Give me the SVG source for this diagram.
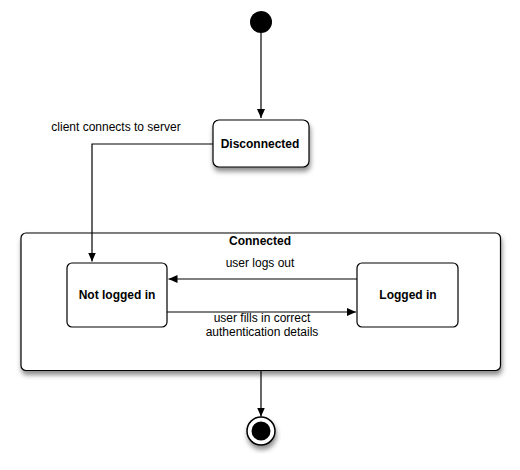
<svg xmlns="http://www.w3.org/2000/svg" width="520" height="470" viewBox="0 0 520 470">
<style>
.box{fill:#fff;stroke:#000;stroke-width:1.2}
.t{font-family:"Liberation Sans",Arial,sans-serif;font-size:12px;fill:#000;text-anchor:middle}
.b{font-weight:bold}
.c{fill:none;stroke:#000;stroke-width:1.2}
</style>
<defs>
<filter id="sh" x="-20%" y="-20%" width="140%" height="150%">
<feDropShadow dx="1" dy="4" stdDeviation="2.5" flood-color="#000" flood-opacity="0.45"/>
</filter>
<marker id="ar" markerWidth="10" markerHeight="10" refX="9" refY="5" orient="auto" markerUnits="userSpaceOnUse">
<path d="M0,1 L9,5 L0,9 Z" fill="#000"/>
</marker>
</defs>
<rect width="520" height="470" fill="#fff"/>
<g id="start"><circle cx="261" cy="22" r="11" fill="#000"/></g>
<g id="connected">
<rect class="box" x="21" y="233" width="479.5" height="137.5" rx="5" filter="url(#sh)"/>
<text class="t b" x="260" y="245">Connected</text>
</g>
<g id="disconnected">
<rect class="box" x="213" y="120" width="96" height="47" rx="6" filter="url(#sh)"/>
<text class="t b" x="260" y="148">Disconnected</text>
</g>
<g id="notloggedin">
<rect class="box" x="67" y="263" width="100" height="64" rx="5"/>
<text class="t b" x="117" y="299">Not logged in</text>
</g>
<g id="loggedin">
<rect class="box" x="357" y="263" width="101" height="64" rx="5"/>
<text class="t b" x="408" y="299">Logged in</text>
</g>
<g id="end">
<circle cx="261" cy="431" r="14" fill="#fff" stroke="#000" stroke-width="1.5" filter="url(#sh)"/>
<circle cx="261" cy="431" r="9.5" fill="#000"/>
</g>
<g id="connectors">
<path class="c" d="M261,33 V118" marker-end="url(#ar)"/>
<path class="c" d="M213,144 H92 V261.5" marker-end="url(#ar)"/>
<path class="c" d="M357,279 H168.5" marker-end="url(#ar)"/>
<path class="c" d="M167,312 H356" marker-end="url(#ar)"/>
<path class="c" d="M261,371 V416.5" marker-end="url(#ar)"/>
<text class="t" x="116" y="131">client connects to server</text>
<text class="t" x="260" y="267">user logs out</text>
<text class="t" x="262" y="322">user fills in correct</text>
<text class="t" x="262" y="336">authentication details</text>
</g>
</svg>
